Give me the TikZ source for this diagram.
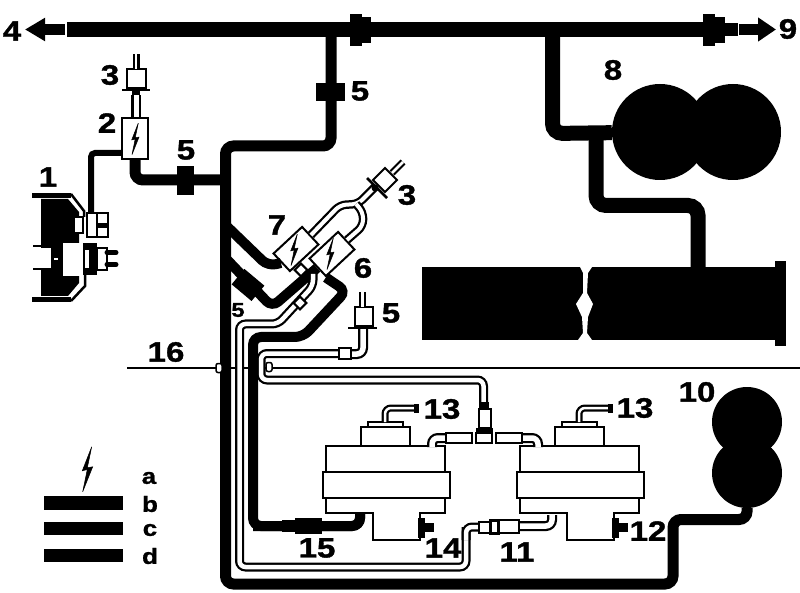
\documentclass[tikz,border=0pt]{standalone}
\usepackage{fontspec}
\setmainfont{Liberation Sans}
\newfontfamily\labfont[FakeStretch=1.18,FakeBold=1.2]{Liberation Sans}
\usetikzlibrary{arrows.meta}

\tikzset{
  lab/.style={font=\fontsize{28}{28}\labfont\bfseries\selectfont, inner sep=0pt},
  minilab/.style={font=\fontsize{22}{22}\labfont\bfseries\selectfont, inner sep=0pt},
  pipe/.style={line width=11pt, rounded corners=8pt},
  widepipe/.style={line width=15pt, rounded corners=10pt},
  thinpipe/.style={line width=6pt, rounded corners=4pt},
  hoseout/.style={black, rounded corners=6pt},
  hosein/.style={white, rounded corners=6pt},
  blob/.style={fill=black, inner sep=0pt},
  boxy/.style={draw, fill=white, line width=2pt, inner sep=0pt},
  valve/.style={boxy, minimum width=39pt, minimum height=24pt},
  boltsign/.pic={\filldraw[line width=.5pt] (4.7,-22.7) -- (-4.7,1.3) -- (.3,0) -- (-4.3,22.3) -- (5.7,-2.7) -- (.3,-1.7) -- cycle;},
  servo/.pic={
    \filldraw[fill=white, line width=2.5pt] (35,-19) rectangle (84,0);
    \filldraw[fill=white, line width=2.5pt] (42,-24) rectangle (77,-19);
    \filldraw[fill=white, line width=2.5pt] (0,0) rectangle (119,26);
    \filldraw[fill=white, line width=2.5pt] (0,52) -- (0,67) -- (47,67) -- (47,94) -- (94,94) -- (94,67) -- (119,67) -- (119,52) -- cycle;
    \filldraw[fill=white, line width=2.5pt] (-3,26) rectangle (124,52);
    \hose[7]{(59,-24) -- (59,-38) -- (88,-38)}
    \fill (88,-42) rectangle (93,-33);
    \fill (92,72) rectangle (99,92);
    \fill (99,77) rectangle (108,86);
  },
}
\newcommand{\hose}[2][9]{\draw[hoseout, line width=#1pt] #2; \draw[hosein, line width=#1pt-4.5pt] #2;}

\begin{document}
\begin{tikzpicture}[x=1pt,y=-1pt]
\useasboundingbox (0,0) rectangle (800,593);
\fill[white] (0,0) rectangle (800,593);

% sense line
\coordinate (lineL) at (127,368);
\coordinate (lineR) at (800,368);
\draw[line width=2.5pt] (lineL) -- (lineR);

% big parts
\node[circle, blob, minimum size=96pt] (res1) at (660,132) {};
\node[circle, blob, minimum size=96pt] (res2) at (733,132) {};
\node[circle, blob, minimum size=70pt] (res3) at (747,422) {};
\node[circle, blob, minimum size=70pt] (res4) at (747,473) {};
\node[blob, minimum width=353pt, minimum height=73pt] (tank) at (598.5,303.5) {};
\node[blob, minimum width=11pt, minimum height=85pt] (tankend) at (780.5,303.5) {};
\fill[white] (580,267) -- (592,267) -- (588,273) -- (587,293) -- (593,304) -- (588,317) -- (587,333) -- (592,340) -- (578,340) -- (583,333) -- (582,317) -- (576,304) -- (583,293) -- (583,273) -- cycle;

% bus and its ends
\coordinate (busL) at (67,29.5);
\coordinate (busR) at (705,29.5);
\coordinate (arrL) at (65,29.5);
\coordinate (tipL) at (25,29.5);
\coordinate (arrR) at (739,29.5);
\coordinate (tipR) at (776,29.5);
\draw[line width=15pt] (busL) -- (busR);
\draw[line width=11pt, -{Triangle[length=20pt,width=22pt]}] (arrL) -- (tipL);
\draw[line width=11pt, -{Triangle[length=18pt,width=23pt]}] (arrR) -- (tipR);
\node[blob, minimum width=12pt, minimum height=32pt] (gromA) at (356,30) {};
\node[blob, minimum width=9pt, minimum height=26pt] (gromAb) at (366,30) {};
\node[blob, minimum width=12pt, minimum height=32pt] (gromB) at (709,30) {};
\node[blob, minimum width=10pt, minimum height=26pt] (gromBb) at (720,30) {};
\node[blob, minimum width=13pt, minimum height=13pt] (gromBc) at (731,29.5) {};

% vacuum pipes
\draw[pipe] (331,30) -- (331,146) -- (225.5,146) -- (225.5,584) -- (673,584) -- (673,519.5) -- (747,519.5) -- (res4);
\draw[widepipe] (552.5,30) -- (552.5,133.5) -- (res1);
\draw[widepipe] (596,133.5) -- (596,205.5) -- (698,205.5) -- (698,270);

% valves
\node[boxy, minimum width=26pt, minimum height=41pt] (valve2) at (135,138.5) {};
\node[valve, rotate=43] (valve7) at (296,249) {};
\node[valve, rotate=43] (valve6) at (332,254) {};

\draw[pipe] (valve2.south) -- (135,180) -- (225.5,180);
\draw[thinpipe] (valve2.west |- 0,153) -- (91,153) -- (91,215);
\draw[pipe, line width=10pt] (225.5,225) -- (268,266) -- (valve7.west);
\draw[pipe, line width=10pt] (225.5,258) -- (272,307) -- (valve6.west);
\draw[pipe, line width=10pt] (valve6.south west) -- (346,291) -- (303,337) -- (253,337) -- (253,526) -- (360,526) -- (360,514);

% hoses at the filter
\hose[8.5]{(valve7.east) -- (340,205) -- (358,204) -- (375,187)}
\hose[8.5]{(valve6.east) -- (363,226) -- (363,212) -- (356,204)}
\node[boxy, rotate=45, minimum size=17pt] (filter3b) at (385,180) {};
\hose[7]{(392,173) -- (403,162)}
\draw[line width=2.5pt] (367,178) -- (387,198);
\fill (375,188) circle (3.5pt);

% left hose
\hose{(466,527) -- (466,567) -- (239.5,567) -- (239.5,324) -- (278,324) -- (313,286) -- (313,274)}
\node[boxy, rotate=45, minimum size=9pt] (nipA) at (300,303) {};
\node[boxy, rotate=45, minimum size=9pt] (nipB) at (301,270) {};
\hose{(490,527) -- (466,527) -- (466,540)}

% hose under filter 5
\hose[10]{(363,329) -- (363,354) -- (345,354)}
\hose{(345,353.5) -- (261,353.5) -- (261,380) -- (483.5,380) -- (483.5,410)}
\node[boxy, minimum width=12pt, minimum height=11pt] (nipC) at (345,353.5) {};
\node[draw, fill=white, line width=1.5pt, rounded corners=2pt, minimum width=6pt, minimum height=9pt, inner sep=0pt] (capA) at (269,367) {};
\node[draw, fill=white, line width=1.5pt, rounded corners=2pt, minimum width=6pt, minimum height=9pt, inner sep=0pt] (capB) at (219,368) {};

% servos
\pic at (326,446) {servo};
\pic at (520,446) {servo};

% pipe under left servo again
\draw[pipe, line width=10pt] (253,526) -- (360,526) -- (360,514);
\node[blob, minimum width=14pt, minimum height=12pt] (conA) at (289,526) {};
\node[blob, minimum width=27pt, minimum height=16pt] (conB) at (308.5,526) {};

% T piece
\hose[10]{(447,438) -- (432,438) -- (432,447)}
\hose[10]{(522,438) -- (538,438) -- (538,447)}
\node[boxy, minimum width=12pt, minimum height=19pt] (bandA) at (484.5,418.5) {};
\node[blob, minimum width=9pt, minimum height=6pt] (bandB) at (484.5,405) {};
\node[blob, minimum width=17pt, minimum height=5pt] (bandC) at (484,430.5) {};
\node[boxy, minimum width=16pt, minimum height=10pt] (tee) at (484,438) {};
\node[boxy, minimum width=26pt, minimum height=10pt] (teeL) at (459,438) {};
\node[boxy, minimum width=26pt, minimum height=10pt] (teeR) at (509,438) {};

% hose 11
\hose[10]{(519,526) -- (552,526) -- (552,515)}
\node[boxy, minimum width=11pt, minimum height=11pt] (boxA) at (484,527) {};
\node[boxy, minimum width=20pt, minimum height=13pt] (boxB) at (509,526.5) {};
\node[boxy, line width=3pt, minimum width=8pt, minimum height=13pt] (boxC) at (494.5,526.5) {};

% fittings 5
\node[blob, minimum width=29pt, minimum height=18pt] (fit5a) at (330.5,92) {};
\node[blob, minimum width=17pt, minimum height=29pt] (fit5b) at (185.5,180.5) {};
\node[blob, rotate=-40, minimum width=26pt, minimum height=20pt] (fit5c) at (248,285) {};

% filters
\hose[9.5]{(136,117) -- (136,95)}
\fill (132,90) rectangle (140,95);
\node[boxy, minimum width=19pt, minimum height=19pt] (filter3a) at (136,79) {};
\hose[7]{(136,69) -- (136,54)}
\draw[line width=2.5pt] (122,90) -- (150,90);
\node[boxy, minimum width=18pt, minimum height=19pt] (filter5) at (363.5,317) {};
\hose[7]{(362.5,307) -- (362.5,292)}
\draw[line width=2.5pt] (348,328) -- (377,328);

% brake booster valve 1
\fill (41,199) -- (68,199) -- (79,212) -- (79,283) -- (68,296) -- (41,296) -- cycle;
\draw[line width=5pt] (32,195.5) -- (71,195.5);
\draw[line width=2.5pt] (71,194) -- (84,211) -- (84,217);
\draw[line width=5pt] (32,300) -- (71,300);
\draw[line width=2.5pt] (71,301) -- (85,286) -- (85,275);
\fill[white] (63,243) rectangle (81,276);
\fill[white] (41,248) rectangle (51,268);
\draw[line width=2pt] (33,246.5) -- (51,246.5);
\draw[line width=2pt] (33,269.5) -- (51,269.5);
\fill[white] (54,258.5) rectangle (58,260);
\node[boxy, minimum width=9pt, minimum height=16pt] (sw1a) at (78.5,225) {};
\node[boxy, minimum width=21pt, minimum height=24pt] (sw1b) at (97.5,225) {};
\fill (98,223) rectangle (107,228);
\draw[line width=2pt] (97,214) -- (97,236);
\fill (83,243) rectangle (97,275);
\fill[white] (85,250) rectangle (88.5,268);
\node[boxy, minimum width=10pt, minimum height=22pt] (sw1c) at (102,259) {};
\draw[line width=5pt, line cap=round] (107,252.5) -- (116,252.5);
\draw[line width=5pt, line cap=round] (107,264.5) -- (116,264.5);

% bolts
\pic[scale=.7] at (135,139) {boltsign};
\pic[scale=.7] at (294,250) {boltsign};
\pic[scale=.7] at (330,254) {boltsign};

% legend
\pic at (87,469.5) {boltsign};
\node[blob, minimum width=79pt, minimum height=14pt] (barB) at (83.5,503) {};
\node[blob, minimum width=79pt, minimum height=13pt] (barC) at (83.5,528.5) {};
\node[blob, minimum width=79pt, minimum height=13pt] (barD) at (83.5,555.5) {};
\node[minilab] (la) at (149,478) {a};
\node[minilab] (lb) at (150,504) {b};
\node[minilab] (lc) at (150,530) {c};
\node[minilab] (ld) at (150,556) {d};

% numbers
\node[lab] (n1) at (48,177) {1};
\node[lab] (n2) at (107,123) {2};
\node[lab] (n3a) at (110,75) {3};
\node[lab] (n3b) at (407,195) {3};
\node[lab] (n4) at (12,31) {4};
\node[lab] (n5a) at (360,91) {5};
\node[lab] (n5b) at (186,150) {5};
\node[lab, font=\fontsize{20}{20}\labfont\bfseries\selectfont] (n5c) at (238,310) {5};
\node[lab] (n5d) at (391,313) {5};
\node[lab] (n6) at (363,268) {6};
\node[lab] (n7) at (277,225) {7};
\node[lab] (n8) at (613,70) {8};
\node[lab] (n9) at (788,29) {9};
\node[lab] (n10) at (697,392) {10};
\node[lab] (n11) at (517,552) {11};
\node[lab] (n12) at (648,531) {12};
\node[lab] (n13a) at (442,409) {13};
\node[lab] (n13b) at (635,408) {13};
\node[lab] (n14) at (443,548) {14};
\node[lab] (n15) at (317,548) {15};
\node[lab] (n16) at (166,352) {16};
\end{tikzpicture}
\end{document}
